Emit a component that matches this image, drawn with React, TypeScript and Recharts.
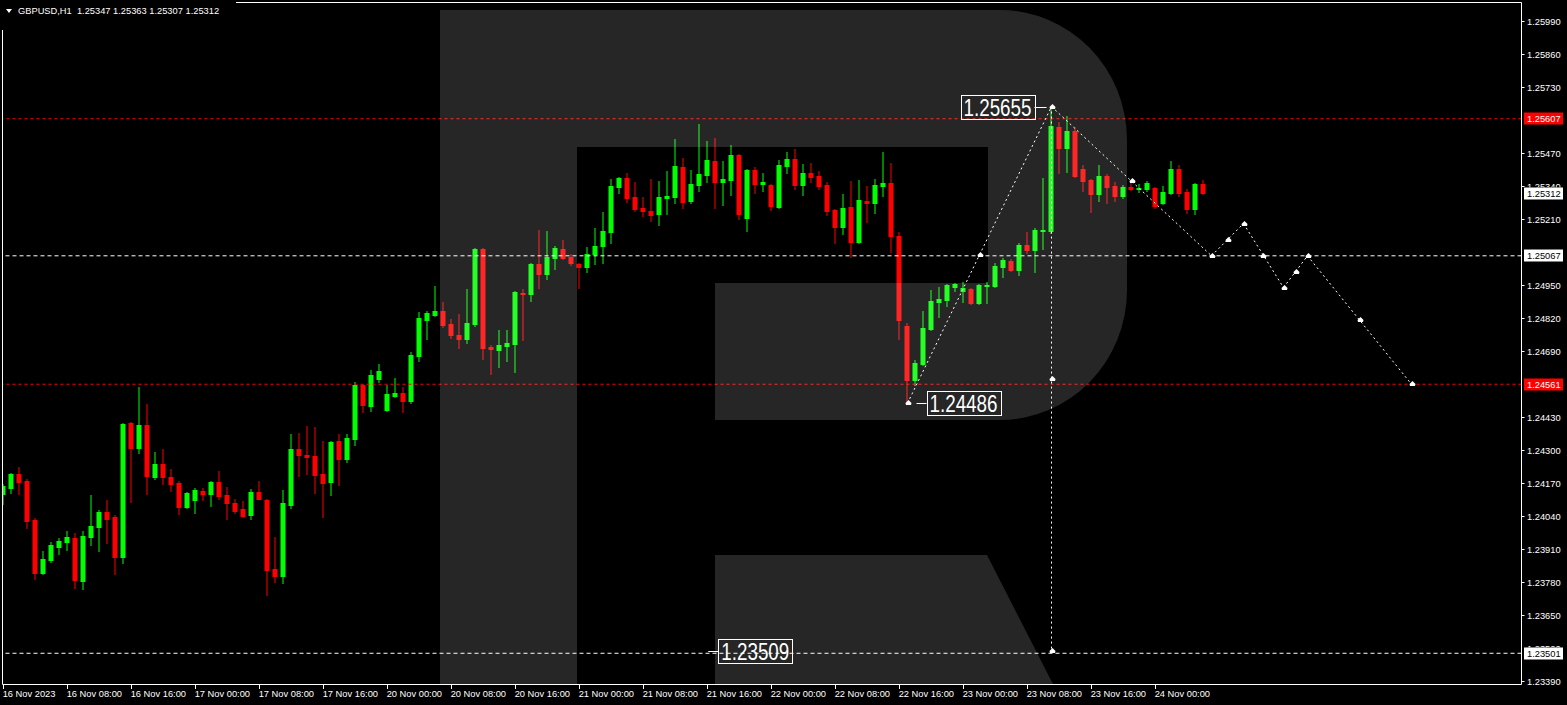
import React from 'react';
import { ComposedChart, Bar, XAxis, YAxis, ReferenceLine, ReferenceDot } from 'recharts';

document.body.style.margin = '0';

const W = 1567;
const H = 705;
const FONT = "'Liberation Sans', Arial, sans-serif";

const colors = {
  bull: '#00ff00',
  bear: '#ff0000',
  text: '#ffffff',
  bg: '#000000',
  level: '#ff0000',
};

// hourly candles GBPUSD H1, [open, high, low, close]
const candles: number[][] = [
  [1.24126, 1.24166, 1.24087, 1.24158], [1.2415, 1.24209, 1.2413, 1.24205], [1.24205, 1.24233, 1.24126, 1.24174],
  [1.24178, 1.24186, 1.23992, 1.2402], [1.24024, 1.24032, 1.23792, 1.23815], [1.23815, 1.23902, 1.23811, 1.23871],
  [1.23867, 1.23937, 1.23859, 1.23925], [1.23918, 1.23953, 1.2389, 1.23941], [1.23937, 1.23981, 1.23906, 1.23957],
  [1.23953, 1.23973, 1.23756, 1.23788], [1.23784, 1.23981, 1.23752, 1.23961], [1.23957, 1.24122, 1.23925, 1.24],
  [1.23996, 1.24064, 1.23902, 1.24056], [1.24056, 1.24103, 1.23933, 1.24028], [1.24036, 1.24044, 1.23811, 1.23879],
  [1.23879, 1.24406, 1.23855, 1.24402], [1.24406, 1.2441, 1.24095, 1.24307], [1.24307, 1.24548, 1.24288, 1.24398],
  [1.24398, 1.24481, 1.24126, 1.24197], [1.24193, 1.24292, 1.24186, 1.24245], [1.24245, 1.24304, 1.24166, 1.24193],
  [1.24193, 1.24225, 1.24138, 1.24166], [1.2417, 1.24178, 1.24048, 1.24075], [1.24075, 1.24134, 1.24071, 1.2413],
  [1.24103, 1.2415, 1.24052, 1.24142], [1.24138, 1.2415, 1.24103, 1.24126], [1.24126, 1.24178, 1.24079, 1.24174],
  [1.24174, 1.24217, 1.24107, 1.24118], [1.24122, 1.24154, 1.24028, 1.24091], [1.24091, 1.24107, 1.24052, 1.2406],
  [1.24068, 1.24099, 1.24036, 1.2404], [1.24044, 1.24146, 1.24028, 1.24134], [1.24134, 1.24178, 1.24107, 1.24107],
  [1.24103, 1.24107, 1.23729, 1.23827], [1.23831, 1.23957, 1.2378, 1.23804], [1.23804, 1.24142, 1.23776, 1.24091],
  [1.24083, 1.24363, 1.24071, 1.24304], [1.24304, 1.24367, 1.24197, 1.2428], [1.2428, 1.24394, 1.24205, 1.24272],
  [1.24276, 1.2439, 1.2413, 1.24201], [1.24205, 1.24335, 1.24036, 1.2417], [1.24174, 1.24335, 1.24122, 1.24331],
  [1.24335, 1.24363, 1.24162, 1.24264], [1.24264, 1.24363, 1.24253, 1.24347], [1.24343, 1.24568, 1.2432, 1.24556],
  [1.24556, 1.2456, 1.2445, 1.24477], [1.24473, 1.24615, 1.24454, 1.24596], [1.2458, 1.24639, 1.24568, 1.24611],
  [1.24458, 1.24556, 1.24454, 1.24521], [1.24513, 1.24584, 1.24509, 1.24525], [1.24525, 1.24548, 1.2445, 1.24493],
  [1.24493, 1.24686, 1.24485, 1.24674], [1.2467, 1.24844, 1.24651, 1.2482], [1.24812, 1.24848, 1.24737, 1.2484],
  [1.24832, 1.24946, 1.24828, 1.24848], [1.24848, 1.24883, 1.24785, 1.24793], [1.24797, 1.24816, 1.24741, 1.24753],
  [1.24753, 1.24836, 1.24702, 1.24737], [1.24737, 1.24934, 1.24721, 1.24801], [1.24797, 1.25096, 1.24789, 1.25092],
  [1.25092, 1.25096, 1.24659, 1.24702], [1.24706, 1.24714, 1.246, 1.24698], [1.24694, 1.24773, 1.24627, 1.24714],
  [1.2471, 1.24773, 1.24651, 1.24721], [1.24718, 1.24926, 1.24607, 1.24922], [1.24918, 1.24934, 1.24733, 1.24914],
  [1.24914, 1.25037, 1.24887, 1.25033], [1.25033, 1.25167, 1.24938, 1.24993], [1.24993, 1.25163, 1.24974, 1.2506],
  [1.25056, 1.25104, 1.25013, 1.25096], [1.25092, 1.25127, 1.25052, 1.25056], [1.2506, 1.25072, 1.25029, 1.25037],
  [1.25033, 1.25037, 1.24938, 1.25021], [1.25021, 1.251, 1.25001, 1.25072], [1.25072, 1.25175, 1.25033, 1.25104],
  [1.25104, 1.25238, 1.25037, 1.25163], [1.25159, 1.25368, 1.25116, 1.2534], [1.25336, 1.25376, 1.25313, 1.25372],
  [1.25372, 1.25391, 1.25277, 1.25293], [1.25297, 1.25356, 1.25242, 1.2525], [1.25254, 1.25297, 1.25222, 1.25242],
  [1.25242, 1.25368, 1.25202, 1.25226], [1.2523, 1.2536, 1.25187, 1.25297], [1.25293, 1.25399, 1.2523, 1.25301],
  [1.25297, 1.25525, 1.25273, 1.25419], [1.25415, 1.2545, 1.25254, 1.25277], [1.25281, 1.25403, 1.25273, 1.25348],
  [1.25344, 1.25584, 1.2532, 1.25387], [1.25384, 1.25517, 1.25356, 1.25443], [1.25439, 1.25529, 1.25254, 1.25356],
  [1.25356, 1.25439, 1.25266, 1.25368], [1.25364, 1.25502, 1.25305, 1.25462], [1.25462, 1.25466, 1.2521, 1.2523],
  [1.25214, 1.25407, 1.25163, 1.25403], [1.25403, 1.25415, 1.25313, 1.25348], [1.25348, 1.25391, 1.2532, 1.25356],
  [1.25344, 1.25348, 1.25246, 1.25262], [1.25258, 1.25443, 1.25254, 1.25423], [1.25419, 1.25474, 1.25391, 1.25447],
  [1.25447, 1.25486, 1.25328, 1.25344], [1.25344, 1.25427, 1.25305, 1.25391], [1.25391, 1.25431, 1.25356, 1.25376],
  [1.2538, 1.25399, 1.25328, 1.2534], [1.25344, 1.25356, 1.25226, 1.25242], [1.25246, 1.2525, 1.25116, 1.25179],
  [1.25179, 1.25309, 1.25151, 1.25254], [1.25258, 1.2536, 1.2506, 1.2512], [1.2512, 1.25364, 1.25116, 1.25285],
  [1.25281, 1.2534, 1.25198, 1.25273], [1.25273, 1.25368, 1.25234, 1.25344], [1.2534, 1.25474, 1.25301, 1.25352],
  [1.25352, 1.25431, 1.2508, 1.25143], [1.25143, 1.25159, 1.24737, 1.24812], [1.24789, 1.24801, 1.24486, 1.24576],
  [1.24576, 1.24655, 1.24556, 1.24643], [1.24639, 1.24848, 1.24635, 1.24781], [1.24777, 1.2493, 1.24773, 1.24887],
  [1.24883, 1.24942, 1.24824, 1.24895], [1.24891, 1.24954, 1.24867, 1.2495], [1.24942, 1.24958, 1.24926, 1.24954],
  [1.24926, 1.24962, 1.24883, 1.24938], [1.24934, 1.24938, 1.24875, 1.24879], [1.24879, 1.24954, 1.24875, 1.2495],
  [1.24946, 1.24962, 1.24879, 1.2495], [1.24946, 1.25037, 1.24942, 1.25025], [1.25021, 1.25056, 1.24982, 1.25049],
  [1.25045, 1.25052, 1.25005, 1.25009], [1.25009, 1.25116, 1.24989, 1.25108], [1.25108, 1.25159, 1.25076, 1.25088],
  [1.25088, 1.25175, 1.25001, 1.25167], [1.25163, 1.25372, 1.25092, 1.25167], [1.25163, 1.25655, 1.25155, 1.25577],
  [1.25573, 1.25592, 1.25391, 1.2549], [1.2549, 1.25616, 1.25395, 1.25557], [1.25557, 1.25573, 1.25376, 1.2538],
  [1.25407, 1.25423, 1.2532, 1.2536], [1.25364, 1.25368, 1.25238, 1.25309], [1.25309, 1.25423, 1.25281, 1.2538],
  [1.2538, 1.25387, 1.25273, 1.25336], [1.2534, 1.25356, 1.25281, 1.25301], [1.25301, 1.25344, 1.25293, 1.25336],
  [1.25336, 1.2536, 1.25324, 1.25328], [1.25328, 1.25348, 1.25317, 1.25332], [1.25328, 1.2536, 1.2532, 1.25352],
  [1.25332, 1.25336, 1.25254, 1.25262], [1.25273, 1.2534, 1.25269, 1.25317], [1.25313, 1.25439, 1.25309, 1.25407],
  [1.25407, 1.25423, 1.25301, 1.25313], [1.25317, 1.25328, 1.25234, 1.2525], [1.2525, 1.25352, 1.2523, 1.25348],
  [1.25347, 1.25363, 1.25307, 1.25312],
];

const dateLabels = [
  '16 Nov 2023', '16 Nov 08:00', '16 Nov 16:00', '17 Nov 00:00', '17 Nov 08:00', '17 Nov 16:00',
  '20 Nov 00:00', '20 Nov 08:00', '20 Nov 16:00', '21 Nov 00:00', '21 Nov 08:00', '21 Nov 16:00',
  '22 Nov 00:00', '22 Nov 08:00', '22 Nov 16:00', '23 Nov 00:00', '23 Nov 08:00', '23 Nov 16:00',
  '24 Nov 00:00',
];
const dateTickIdx = dateLabels.map((_, n) => n * 8);

const priceTicks = [
  1.2339, 1.2352, 1.2365, 1.2378, 1.2391, 1.2404, 1.2417, 1.243, 1.2443, 1.2456, 1.2469,
  1.2482, 1.2495, 1.2508, 1.2521, 1.2534, 1.2547, 1.256, 1.2573, 1.2586, 1.2599,
];

// horizontal levels drawn across the chart, with their price boxes on the axis
const levelPrices = [1.25607, 1.25312, 1.25067, 1.24561, 1.23501];
const levelKinds = ['red', 'bid', 'white', 'red', 'white'];

// forecast path: bar index and price
const projIdx = [113, 131, 151, 155, 160, 163, 176];
const projPrice = [1.24486, 1.25655, 1.25067, 1.25194, 1.24942, 1.25067, 1.24561];
const targetPrice = 1.23509;

const Y_DOMAIN = [1.23378, 1.26065];
const PLOT_H = 682;
const PX_PER_PRICE = PLOT_H / (Y_DOMAIN[1] - Y_DOMAIN[0]);

const data = candles.map(([o, h, l, c], i) => ({ i, o, h, l, c, range: [l, h] }));

const Candle = (props: any) => {
  const { x, y, width, height, payload } = props;
  if (!payload || height == null) return null;
  const { o, h, l, c } = payload;
  const top = Math.min(y, y + height);
  const span = Math.abs(height);
  const py = (p: number) => top + ((h - p) / (h - l)) * span;
  const row = (v: number) => Math.round(v - 0.5);
  const cx = x + width / 2;
  const col = c >= o ? colors.bull : colors.bear;
  const bTop = row(Math.min(py(o), py(c)));
  const bBot = row(Math.max(py(o), py(c)));
  const wTop = row(top);
  const wBot = row(top + span);
  return (
    <g>
      <rect x={cx - 0.5} y={wTop} width={1} height={wBot - wTop + 1} fill={col} />
      <rect x={cx - 2.5} y={bTop} width={5} height={bBot - bTop + 1} fill={col} />
    </g>
  );
};

const DateTick = (props: any) => {
  const { x, y, payload } = props;
  const label = dateLabels[Math.round(payload.value / 8)];
  return (
    <g>
      <line x1={x} x2={x} y1={y} y2={y + 4.5} stroke={colors.text} />
      <text x={x - 0.8} y={y + 12} fill={colors.text} fontSize={9.3} fontFamily={FONT}>
        {label}
      </text>
    </g>
  );
};

// price labels are partly hidden under the level boxes, like in the terminal
const PriceTick = (props: any) => {
  const { x, y, payload } = props;
  const yy = Math.floor(y) + 0.5;
  let clip: { y0: number; y1: number } | null = null;
  levelPrices.forEach((lv) => {
    const ly = Math.floor(y + (payload.value - lv) * PX_PER_PRICE) + 0.5;
    if (Math.abs(ly - yy) < 12) {
      clip = ly <= yy ? { y0: ly + 6, y1: yy + 10 } : { y0: yy - 10, y1: ly - 6 };
    }
  });
  const id = `ptclip-${Math.round(payload.value * 100000)}`;
  return (
    <g>
      {clip && (
        <defs>
          <clipPath id={id}>
            <rect x={x} y={(clip as any).y0} width={50} height={Math.max(0, (clip as any).y1 - (clip as any).y0)} />
          </clipPath>
        </defs>
      )}
      <g clipPath={clip ? `url(#${id})` : undefined}>
        <line x1={x} x2={x + 3} y1={yy} y2={yy} stroke={colors.text} />
        <text x={x + 5.5} y={yy + 3.5} fill={colors.text} fontSize={9.3} fontFamily={FONT}>
          {payload.value.toFixed(5)}
        </text>
      </g>
    </g>
  );
};

const AxisBox = (props: any) => {
  const { viewBox, value, kind } = props;
  if (!viewBox) return null;
  const x = viewBox.x + viewBox.width + 2.5;
  const y = Math.floor(viewBox.y) + 0.5;
  const red = kind === 'red';
  return (
    <g>
      <rect x={x} y={y - 6} width={39} height={12} fill={red ? colors.level : '#ffffff'} />
      <text x={x + 3} y={y + 3.5} fill={red ? '#ffffff' : '#000000'} fontSize={9.3} fontFamily={FONT}>
        {value.toFixed(5)}
      </text>
    </g>
  );
};

const Marker = (props: any) => {
  const { cx, cy } = props;
  if (cx == null) return null;
  const x = Math.round(cx) + 0.5;
  const y = Math.round(cy);
  return (
    <polygon
      points={`${x},${y - 3} ${x + 3},${y} ${x + 2.5},${y + 2} ${x - 2.5},${y + 2} ${x - 3},${y}`}
      fill="#ffffff"
    />
  );
};

const BigLabel = (props: any) => {
  const { cx, cy, text, side } = props;
  if (cx == null) return null;
  const y = Math.round(cy) + 0.5;
  const boxW = 74;
  let dash: number[];
  let bx: number;
  if (side === 'left') {
    dash = [cx - 17, cx - 5];
    bx = cx - 17 - boxW;
  } else if (side === 'right') {
    dash = [cx + 9, cx + 19];
    bx = cx + 19;
  } else {
    dash = [cx, cx + 10];
    bx = cx + 10;
  }
  return (
    <g>
      <line x1={dash[0]} x2={dash[1]} y1={y} y2={y} stroke="#ffffff" />
      <rect x={Math.round(bx) + 0.5} y={y - 12} width={boxW} height={24} fill="none" stroke="#ffffff" />
      <text
        x={bx + 3}
        y={y + 8.5}
        fill="#ffffff"
        fontSize={24}
        fontFamily={FONT}
        textLength={68}
        lengthAdjust="spacingAndGlyphs"
      >
        {text}
      </text>
    </g>
  );
};

// RoboForex style "R" watermark, drawn over the plot in translucent white
const LogoOverlay = () => (
  <svg width={W} height={H} style={{ position: 'absolute', left: 0, top: 0, pointerEvents: 'none' }}>
    <defs>
      <clipPath id="plotClip">
        <rect x={3} y={3} width={1518} height={681} />
      </clipPath>
    </defs>
    <g clipPath="url(#plotClip)" fill="#ffffff" fillOpacity={0.149}>
      <path d="M440,10 H1000 A127,130 0 0 1 1127,140 V290 A127,130 0 0 1 1000,420 H715 V283 H988 V147 H577 V690 H440 Z" />
      <path d="M715,555 H987 L1056,690 H715 Z" />
    </g>
    <rect x={0} y={0} width={236} height={30} fill="#000000" />
    <line x1={2.5} x2={2.5} y1={30} y2={684.5} stroke="#ffffff" />
    <line x1={236} x2={1521.5} y1={2.5} y2={2.5} stroke="#ffffff" />
    <polygon points="6,9 12,9 9,13" fill="#ffffff" />
    <text x={18} y={13.5} fill="#ffffff" fontSize={9.3} fontFamily={FONT} xmlSpace="preserve">
      GBPUSD,H1  1.25347 1.25363 1.25307 1.25312
    </text>
  </svg>
);

export default function App() {
  const segs = projIdx.slice(1).map((x2, n) => ({
    x1: projIdx[n],
    y1: projPrice[n],
    x2,
    y2: projPrice[n + 1],
  }));
  return (
    <div style={{ position: 'relative', width: W, height: H, background: colors.bg, overflow: 'hidden' }}>
      <ComposedChart
        width={W}
        height={H}
        data={data}
        margin={{ top: 2.5, right: 0, bottom: 0, left: 2.5 }}
      >
        <XAxis
          dataKey="i"
          type="number"
          domain={[-0.125, 189.75]}
          allowDataOverflow
          ticks={dateTickIdx}
          interval={0}
          tick={<DateTick />}
          tickLine={false}
          tickSize={0}
          tickMargin={0}
          axisLine={{ stroke: colors.text }}
          height={20.5}
        />
        <YAxis
          orientation="right"
          type="number"
          domain={Y_DOMAIN}
          allowDataOverflow
          ticks={priceTicks}
          interval={0}
          tick={<PriceTick />}
          tickLine={false}
          tickSize={0}
          tickMargin={0}
          axisLine={{ stroke: colors.text }}
          width={45.5}
        />
        <Bar dataKey="range" barSize={5} shape={<Candle />} isAnimationActive={false} />

        {levelPrices.map((p, n) => (
          <ReferenceLine
            key={`lvl-${p}`}
            y={p}
            stroke={levelKinds[n] === 'red' ? colors.level : '#ffffff'}
            strokeOpacity={levelKinds[n] === 'bid' ? 0 : 1}
            strokeDasharray={levelKinds[n] === 'red' ? '3 3' : '4 3'}
            label={<AxisBox value={p} kind={levelKinds[n]} />}
          />
        ))}

        {segs.map((s, n) => (
          <ReferenceLine
            key={`seg-${n}`}
            segment={[{ x: s.x1, y: s.y1 }, { x: s.x2, y: s.y2 }]}
            stroke="#ffffff"
            strokeDasharray="2 3"
          />
        ))}
        <ReferenceLine
          segment={[{ x: projIdx[1], y: projPrice[1] }, { x: projIdx[1], y: targetPrice }]}
          stroke="#ffffff"
          strokeDasharray="2 3"
        />

        {segs.map((s, n) => (
          <ReferenceDot
            key={`mid-${n}`}
            x={(s.x1 + s.x2) / 2}
            y={(s.y1 + s.y2) / 2}
            r={3}
            shape={<Marker />}
          />
        ))}
        {projIdx.map((x, n) => (
          <ReferenceDot key={`pt-${n}`} x={x} y={projPrice[n]} r={3} shape={<Marker />} />
        ))}
        <ReferenceDot x={projIdx[1]} y={(projPrice[1] + targetPrice) / 2} r={3} shape={<Marker />} />
        <ReferenceDot x={projIdx[1]} y={targetPrice} r={3} shape={<Marker />} />

        <ReferenceDot x={projIdx[1]} y={projPrice[1]} r={1} shape={<BigLabel text="1.25655" side="left" />} />
        <ReferenceDot x={projIdx[0]} y={projPrice[0]} r={1} shape={<BigLabel text="1.24486" side="right" />} />
        <ReferenceDot x={88.1} y={targetPrice} r={1} shape={<BigLabel text="1.23509" side="near" />} />
      </ComposedChart>
      <LogoOverlay />
    </div>
  );
}
